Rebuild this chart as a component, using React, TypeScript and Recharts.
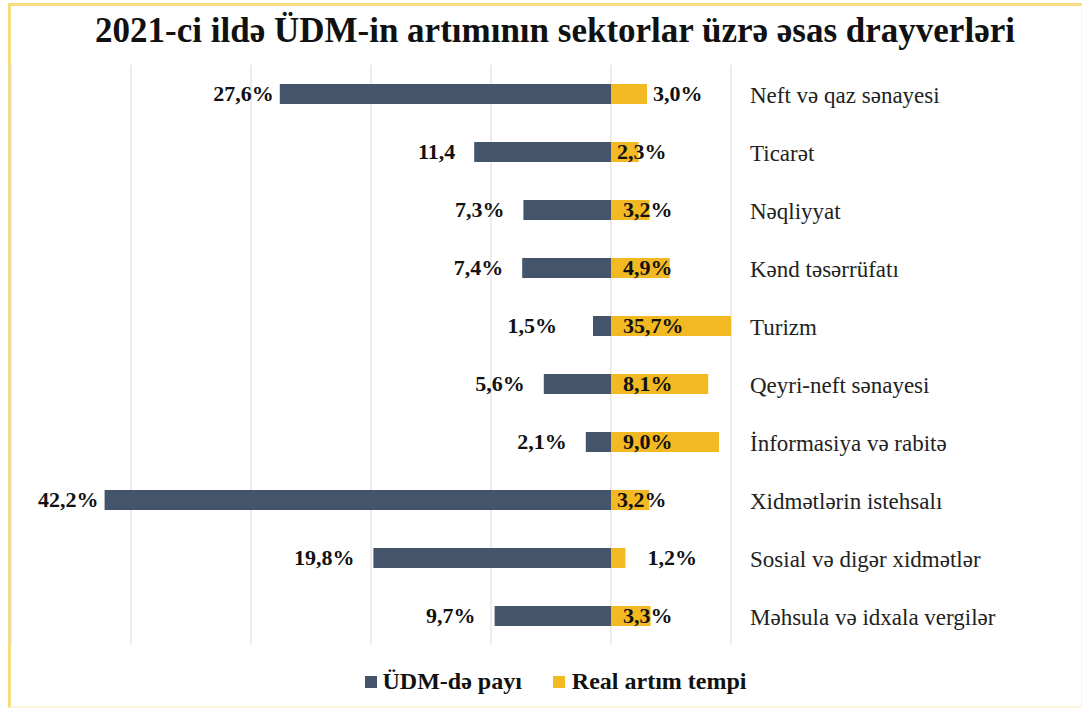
import React from 'react';
import { BarChart, Bar, XAxis, YAxis, CartesianGrid, LabelList, Legend } from 'recharts';

const categories = [
  'Neft və qaz sənayesi',
  'Ticarət',
  'Nəqliyyat',
  'Kənd təsərrüfatı',
  'Turizm',
  'Qeyri-neft sənayesi',
  'İnformasiya və rabitə',
  'Xidmətlərin istehsalı',
  'Sosial və digər xidmətlər',
  'Məhsula və idxala vergilər',
];
const udmShare = [27.6, 11.4, 7.3, 7.4, 1.5, 5.6, 2.1, 42.2, 19.8, 9.7];
const udmLabels = ['27,6%', '11,4', '7,3%', '7,4%', '1,5%', '5,6%', '2,1%', '42,2%', '19,8%', '9,7%'];
const realGrowth = [3.0, 2.3, 3.2, 4.9, 35.7, 8.1, 9.0, 3.2, 1.2, 3.3];
const realLabels = ['3,0%', '2,3%', '3,2%', '4,9%', '35,7%', '8,1%', '9,0%', '3,2%', '1,2%', '3,3%'];
const udmLabelMode = ['near', 'normal', 'normal', 'normal', 'far', 'normal', 'normal', 'near', 'normal', 'normal'];
const realLabelMode = ['out', 'tight', 'in', 'in', 'in', 'in', 'in', 'tight', 'outFar', 'in'];
const xTicks = [-50, -40, -30, -20, -10, 0, 10];

const data = categories.map((name, i) => ({
  name,
  udm: -udmShare[i],
  real: realGrowth[i],
}));

const FONT = '"Liberation Serif", "Times New Roman", serif';
const DARK = '#44546a';
const GOLD = '#f2b922';

const UdmLabel = (props: any) => {
  const { x, y, width, height, index } = props;
  const left = Math.min(x, x + width);
  const mode = udmLabelMode[index];
  const gap = mode === 'near' ? 6 : mode === 'far' ? 36 : 19;
  return (
    <text x={left - gap} y={y + height / 2 + 7} textAnchor="end" fontFamily={FONT} fontWeight="bold" fontSize={22} fill="#111">
      {udmLabels[index]}
    </text>
  );
};

const RealLabel = (props: any) => {
  const { x, y, width, height, index } = props;
  const left = Math.min(x, x + width);
  const right = Math.min(Math.max(x, x + width), 731);
  const mode = realLabelMode[index];
  let tx = left + 12;
  if (mode === 'tight') tx = left + 6;
  if (mode === 'out') tx = right + 6;
  if (mode === 'outFar') tx = right + 22;
  return (
    <text x={tx} y={y + height / 2 + 7} textAnchor="start" fontFamily={FONT} fontWeight="bold" fontSize={22} fill="#111">
      {realLabels[index]}
    </text>
  );
};

const CategoryTick = (props: any) => {
  const { x, y, payload } = props;
  return (
    <text x={x} y={y + 9} textAnchor="start" fontFamily={FONT} fontSize={23} fill="#222">
      {payload.value}
    </text>
  );
};

const LegendContent = () => (
  <div style={{ display: 'flex', justifyContent: 'center', alignItems: 'center', fontFamily: FONT, fontWeight: 'bold', fontSize: 24, color: '#111' }}>
    <span style={{ display: 'inline-block', width: 12, height: 12, background: DARK, marginRight: 6 }} />
    <span style={{ marginRight: 31 }}>ÜDM-də payı</span>
    <span style={{ display: 'inline-block', width: 12, height: 12, background: GOLD, marginRight: 7 }} />
    <span>Real artım tempi</span>
  </div>
);

export default function App() {
  return (
    <div style={{ position: 'absolute', left: 0, top: 0, width: 1089, height: 715, background: '#fff', overflow: 'hidden' }}>
      <div
        style={{
          position: 'absolute',
          left: 8,
          top: 3,
          width: 1070,
          height: 700,
          borderTop: '3px solid #f6dc80',
          borderLeft: '3px solid #f6dc80',
          borderRight: '1px solid #fcf4d6',
          borderBottom: '2px solid #fdf6dc',
        }}
      />
      <div
        style={{
          position: 'absolute',
          left: 0,
          top: 11,
          width: 1110,
          textAlign: 'center',
          fontFamily: FONT,
          fontWeight: 'bold',
          fontSize: 35,
          color: '#111',
          whiteSpace: 'nowrap',
        }}
      >
        2021-ci ildə ÜDM-in artımının sektorlar üzrə əsas drayverləri
      </div>
      <div style={{ position: 'absolute', left: 0, top: 0 }}>
        <BarChart
          width={1089}
          height={715}
          data={data}
          layout="vertical"
          stackOffset="sign"
          margin={{ top: 65, right: 0, bottom: 40, left: 11 }}
          barCategoryGap={19}
        >
          <CartesianGrid horizontal={false} stroke="#d9d9d9" />
          <XAxis type="number" domain={[-50, 10]} ticks={xTicks} allowDataOverflow hide />
          <YAxis
            type="category"
            dataKey="name"
            orientation="right"
            width={358}
            axisLine={false}
            tickLine={false}
            tickMargin={0}
            tickSize={19}
            tick={<CategoryTick />}
            interval={0}
          />
          <Bar dataKey="udm" stackId="a" fill={DARK} barSize={20} isAnimationActive={false}>
            <LabelList dataKey="udm" content={<UdmLabel />} />
          </Bar>
          <Bar dataKey="real" stackId="a" fill={GOLD} barSize={20} isAnimationActive={false}>
            <LabelList dataKey="real" content={<RealLabel />} />
          </Bar>
          <Legend
            content={<LegendContent />}
            wrapperStyle={{ position: 'absolute', top: 668, left: 11, width: 1089, height: 30 }}
          />
        </BarChart>
      </div>
    </div>
  );
}
